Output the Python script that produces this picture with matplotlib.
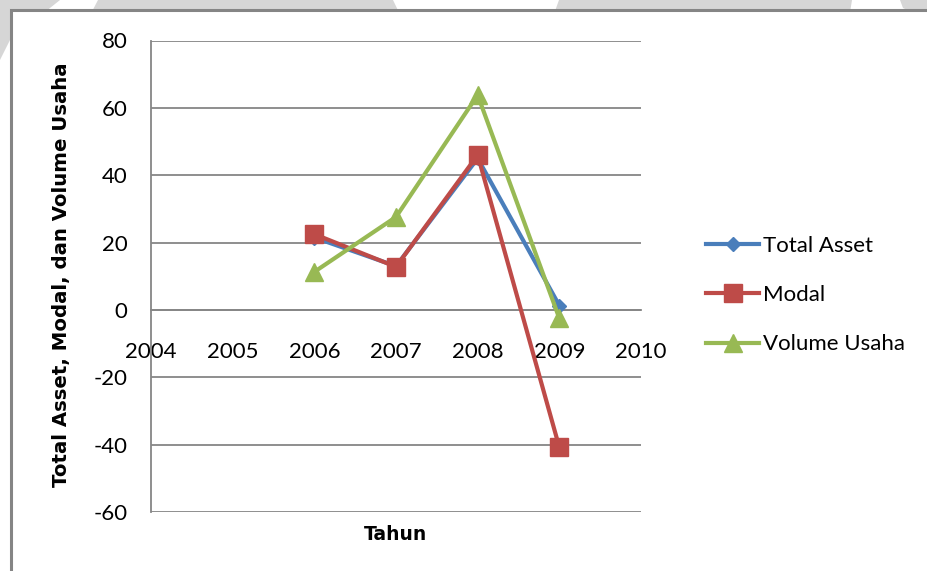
import matplotlib
matplotlib.use("Agg")
import matplotlib.pyplot as plt
from matplotlib.patches import Rectangle, Polygon

plt.rcParams['font.family'] = ['Lato', 'DejaVu Sans']
plt.rcParams['axes.unicode_minus'] = False

years = [2006, 2007, 2008, 2009]
total_asset = [21.5, 13.0, 45.0, 1.3]
modal = [22.5, 12.8, 46.0, -40.8]
volume_usaha = [11.3, 27.6, 63.8, -2.5]

x_ticks = [2004, 2005, 2006, 2007, 2008, 2009, 2010]
y_ticks = [-60, -40, -20, 0, 20, 40, 60, 80]

W, H = 928, 571
fig = plt.figure(figsize=(W / 100, H / 100), dpi=100)
fig.patch.set_facecolor('white')

# light grey shapes behind the chart frame
grey = '#d6d6d6'
for pts in [
    [(98, 0), (393, 0), (405, 25), (85, 25)],
    [(559, 0), (852, 0), (848, 25), (550, 25)],
    [(900, 0), (928, 0), (928, 20), (903, 8)],
    [(0, 0), (60, 0), (10, 40), (0, 60)],
]:
    fig.patches.append(Polygon([(x / W, 1 - y / H) for x, y in pts], closed=True,
                               transform=fig.transFigure, facecolor=grey,
                               edgecolor='none', zorder=0))

# chart frame
fig.patches.append(Rectangle((11 / W, -0.05), 1.0, 1 - 10 / H + 0.05,
                             transform=fig.transFigure, facecolor='white',
                             edgecolor='#858585', linewidth=2.2, zorder=1))

ax = fig.add_axes([151 / W, 1 - 512 / H, (641 - 151) / W, (512 - 40.5) / H])
ax.set_zorder(2)
ax.set_facecolor('none')

blue, red, green = '#4A7EBB', '#BE4B48', '#98B954'
ax.plot(years, total_asset, color=blue, lw=3.0, marker='D', ms=7,
        label='Total Asset', zorder=3)
ax.plot(years, modal, color=red, lw=3.0, marker='s', ms=13.5,
        label='Modal', zorder=4)
ax.plot(years, volume_usaha, color=green, lw=3.0, marker='^', ms=13,
        label='Volume Usaha', zorder=5)

ax.set_xlim(2004, 2010)
ax.set_ylim(-60, 80)
ax.set_xticks(x_ticks)
ax.set_yticks(y_ticks)
ax.set_xticklabels([str(v) for v in x_ticks])
ax.set_yticklabels([str(v) for v in y_ticks])
ax.yaxis.grid(True, color='#868686', lw=1.3)
ax.set_axisbelow(True)

for s in ['top', 'right']:
    ax.spines[s].set_visible(False)
ax.spines['left'].set_color('#868686')
ax.spines['left'].set_linewidth(1.3)
ax.spines['bottom'].set_position(('data', 0))
ax.spines['bottom'].set_color('#868686')
ax.spines['bottom'].set_linewidth(1.3)

ax.tick_params(axis='x', length=0, pad=23, labelsize=16)
ax.tick_params(axis='y', length=0, pad=17, labelsize=16)

fig.text(62 / W, 1 - 275 / H, 'Total Asset, Modal, dan Volume Usaha',
         rotation=90, ha='center', va='center', fontsize=14.2,
         fontweight='bold', family=['DejaVu Sans'])
fig.text(396 / W, 1 - 534 / H, 'Tahun', ha='center', va='center',
         fontsize=13.5, fontweight='bold', family=['DejaVu Sans'])

ax.legend(loc='center left', bbox_to_anchor=(706 / W, 1 - 295 / H),
          bbox_transform=fig.transFigure, frameon=False, fontsize=16,
          handlelength=2.4, handletextpad=0.15, labelspacing=1.32,
          borderpad=0, borderaxespad=0)

fig.savefig('out.png', dpi=100, facecolor=fig.get_facecolor())
